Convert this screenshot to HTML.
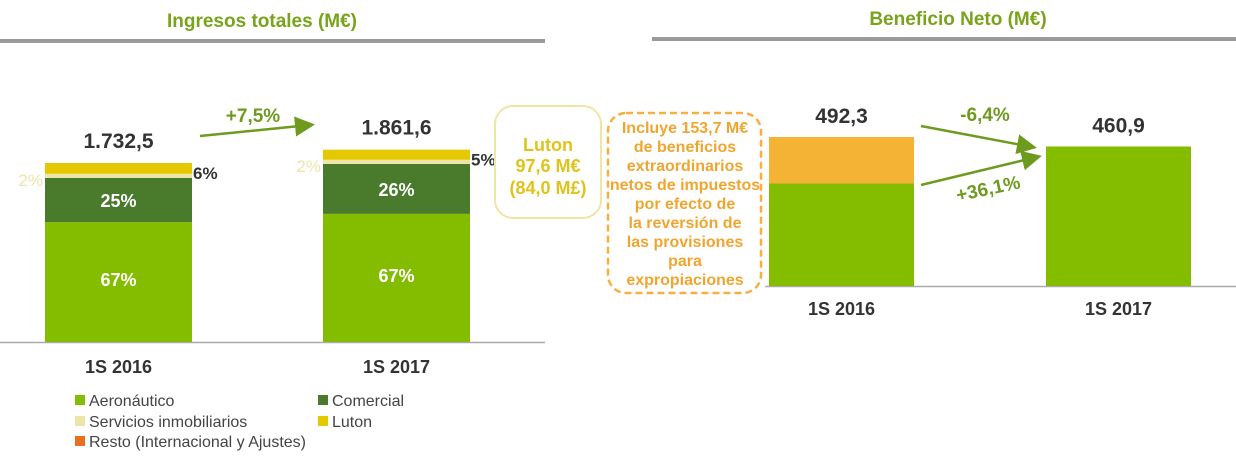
<!DOCTYPE html>
<html><head><meta charset="utf-8"><style>
body{margin:0;width:1236px;height:458px;background:#fff;font-family:"Liberation Sans",sans-serif;overflow:hidden;position:relative}
svg{position:absolute;left:0;top:0}
.t{font-weight:bold}
</style></head><body>
<svg width="1236" height="458" id="c">
<text x="262" y="27" text-anchor="middle" fill="#79a31b" font-size="19" class="t">Ingresos totales (M€)</text>
<rect x="0" y="39" width="545" height="4" fill="#9a9a9a"/>
<text x="958" y="25" text-anchor="middle" fill="#79a31b" font-size="19" class="t">Beneficio Neto (M€)</text>
<rect x="652" y="37" width="584" height="4" fill="#9a9a9a"/>
<line x1="0" y1="342.5" x2="545" y2="342.5" stroke="#aaa" stroke-width="1.5"/>
<line x1="765" y1="286.5" x2="1236" y2="286.5" stroke="#aaa" stroke-width="1.5"/>
<g id="left"></g><g id="right"></g>
<rect x="495" y="106" width="106" height="112" rx="18" fill="none" stroke="#eee6a6" stroke-width="2"/>
<text text-anchor="middle" fill="#e0c31a" font-size="18" class="t"><tspan x="548" y="151">Luton</tspan><tspan x="548" y="172">97,6 M€</tspan><tspan x="548" y="194">(84,0 M£)</tspan></text>
<rect x="608" y="113" width="153" height="180" rx="18" fill="none" stroke="#f5b041" stroke-width="2.5" stroke-dasharray="7,4"/>
<text text-anchor="middle" fill="#f0a530" font-size="16" class="t"><tspan x="685" y="133">Incluye 153,7 M€</tspan><tspan x="685" y="152">de beneficios</tspan><tspan x="685" y="171">extraordinarios</tspan><tspan x="685" y="190">netos de impuestos</tspan><tspan x="685" y="209">por efecto de</tspan><tspan x="685" y="228">la reversión de</tspan><tspan x="685" y="247">las provisiones</tspan><tspan x="685" y="266">para</tspan><tspan x="685" y="285">expropiaciones</tspan></text>
<defs><marker id="ah" markerWidth="8" markerHeight="8" refX="6" refY="4" orient="auto"><path d="M0,0 L8,4 L0,8z" fill="#6e9a1e"/></marker></defs>
<line x1="200" y1="136" x2="310" y2="125" stroke="#6e9a1e" stroke-width="2.5" marker-end="url(#ah)"/>
<text x="253" y="122" text-anchor="middle" fill="#6e9a1e" font-size="19" class="t">+7,5%</text>
<line x1="921" y1="126" x2="1032" y2="147" stroke="#6e9a1e" stroke-width="2.5" marker-end="url(#ah)"/>
<text x="985" y="121" text-anchor="middle" fill="#6e9a1e" font-size="19" class="t">-6,4%</text>
<line x1="921" y1="185" x2="1037" y2="157" stroke="#6e9a1e" stroke-width="2.5" marker-end="url(#ah)"/>
<text x="988" y="195" text-anchor="middle" fill="#6e9a1e" font-size="19" class="t" transform="rotate(-12 988 188)">+36,1%</text>
<g font-size="16" fill="#444" id="legend">
<rect x="75" y="395" width="10" height="10" fill="#84bc00"/><text x="89" y="406">Aeronáutico</text>
<rect x="318" y="395" width="10" height="10" fill="#4a7a2c"/><text x="332" y="406">Comercial</text>
<rect x="75" y="416" width="10" height="10" fill="#ede6a8"/><text x="89" y="427">Servicios inmobiliarios</text>
<rect x="318" y="416" width="10" height="10" fill="#e4c800"/><text x="332" y="427">Luton</text>
<rect x="75" y="436" width="10" height="10" fill="#e8711e"/><text x="89" y="447">Resto (Internacional y Ajustes)</text>
</g>
</svg>
<script>
const categories=["1S 2016","1S 2017"];
const totals=[1732.5,1861.6];
const totalLabels=["1.732,5","1.861,6"];
const aero=[1160,1240];
const comercial=[428,484];
const servicios=[40,40];
const luton=[104.5,97.6];
const aeroPct=["67%","67%"];
const comPct=["25%","26%"];
const lutonPct=["6%","5%"];
const servPct=["2%","2%"];
const beneficioBase=[338.6,460.9];
const beneficioExtra=[153.7,0];
const beneficioLabels=["492,3","460,9"];

const NS="http://www.w3.org/2000/svg";
function mk(p,tag,a,txt){const e=document.createElementNS(NS,tag);for(const k in a)e.setAttribute(k,a[k]);if(txt!=null)e.textContent=txt;p.appendChild(e);return e;}
const L=document.getElementById('left'),R=document.getElementById('right');
const base1=342,k1=179/1732.5;
const xL=i=>45+i*278,wL=147;
const yL=v=>base1-v*k1;
categories.forEach((c,i)=>{
  const x=xL(i);let cum=0;
  const segs=[[aero[i],'#84bc00','aero'],[comercial[i],'#4a7a2c','comercial'],[servicios[i],'#ede6a8','servicios'],[luton[i],'#e4c800','luton']];
  segs.forEach(s=>{const r=mk(L,'rect',{x:x,y:yL(cum+s[0]),width:wL,height:s[0]*k1,fill:s[1]});
    
    
    cum+=s[0];});
  let t=mk(L,'text',{x:x+wL/2,y:yL(aero[i]/2)+4,'text-anchor':'middle',fill:'#fff','font-size':18,'font-weight':'bold'},aeroPct[i]);
  
  
  t=mk(L,'text',{x:x+wL/2,y:yL(aero[i]+comercial[i]/2)+7,'text-anchor':'middle',fill:'#fff','font-size':18,'font-weight':'bold'},comPct[i]);
  
  
  t=mk(L,'text',{x:x+wL+1,y:yL(totals[i])+16,fill:'#333','font-size':17,'font-weight':'bold'},lutonPct[i]);
  
  
  t=mk(L,'text',{x:x-2,y:yL(aero[i]+comercial[i])+8,'text-anchor':'end',fill:'#ece4a8','font-size':17},servPct[i]);
  
  
  t=mk(L,'text',{x:x+wL/2,y:yL(totals[i])-15,'text-anchor':'middle',fill:'#333','font-size':21,'font-weight':'bold'},totalLabels[i]);
  
  
  t=mk(L,'text',{x:x+wL/2,y:373,'text-anchor':'middle',fill:'#333','font-size':18,'font-weight':'bold'},c);
  
  
});
const base2=286,k2=149/492.3;
const xR=i=>769+i*277,wR=145;
const yR=v=>base2-v*k2;
categories.forEach((c,i)=>{
  const x=xR(i);
  let r=mk(R,'rect',{x:x,y:yR(beneficioBase[i]),width:wR,height:beneficioBase[i]*k2,fill:'#84bc00'});
  
  
  if(beneficioExtra[i]>0){r=mk(R,'rect',{x:x,y:yR(beneficioBase[i]+beneficioExtra[i]),width:wR,height:beneficioExtra[i]*k2,fill:'#f5b335'});
    
    }
  let t=mk(R,'text',{x:x+wR/2,y:yR(beneficioBase[i]+beneficioExtra[i])-14,'text-anchor':'middle',fill:'#333','font-size':21,'font-weight':'bold'},beneficioLabels[i]);
  
  
  t=mk(R,'text',{x:x+wR/2,y:315,'text-anchor':'middle',fill:'#333','font-size':18,'font-weight':'bold'},c);
  
  
});
</script>
</body></html>
